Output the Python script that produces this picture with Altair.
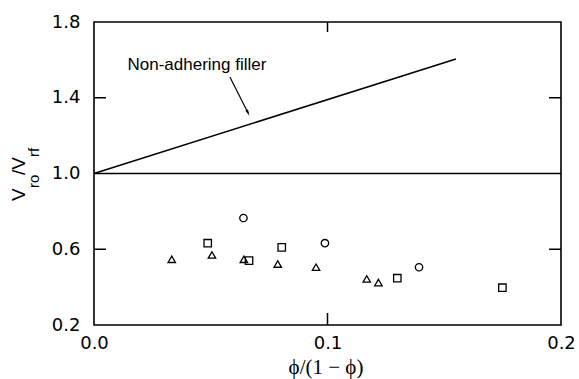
import altair as alt
import pandas as pd

# ---- data ----
circle_x = [0.0640, 0.0989, 0.1392]
circle_y = [0.765, 0.632, 0.505]
square_x = [0.0487, 0.0664, 0.0804, 0.1299, 0.1749]
square_y = [0.632, 0.540, 0.610, 0.447, 0.397]
triangle_x = [0.0333, 0.0505, 0.0642, 0.0787, 0.0951, 0.1168, 0.1218]
triangle_y = [0.547, 0.570, 0.547, 0.522, 0.505, 0.443, 0.424]

model_x = [0.0, 0.155]          # non-adhering filler line
model_y = [1.0, 1.605]
ref_y = [1.0]                   # horizontal reference at 1.0

arrow_x = [0.0582, 0.0660]
arrow_y = [1.510, 1.320]
label_text = ["Non-adhering filler"]
label_x = [0.0441]
label_y = [1.547]

x_tick_values = [0.0, 0.1, 0.2]
y_tick_values = [0.2, 0.6, 1.0, 1.4, 1.8]
inner_x_ticks = [0.1]
inner_y_ticks = [0.6, 1.4]

x_title = ["ϕ/(1 − ϕ)"]
y_title_main = ["V", "/V"]
y_title_sub = ["ro", "rf"]

# ---- build tables ----
pts = pd.concat([
    pd.DataFrame({"x": circle_x, "y": circle_y, "s": "circle"}),
    pd.DataFrame({"x": square_x, "y": square_y, "s": "square"}),
    pd.DataFrame({"x": triangle_x, "y": triangle_y, "s": "triangle"}),
])

xs = alt.Scale(domain=[0, 0.2], nice=False, zero=False)
ys = alt.Scale(domain=[0.2, 1.8], nice=False, zero=False)

x_axis = alt.Axis(values=x_tick_values, format=".1f", labelFontSize=18,
                  labelFont="DejaVu Sans", labelPadding=9, ticks=False, tickSize=0,
                  domain=False, grid=False, title=None, labelFlush=False,
                  labelOverlap=False, labelColor="black")
y_axis = alt.Axis(values=y_tick_values, format=".1f", labelFontSize=18,
                  labelFont="DejaVu Sans", labelPadding=14, ticks=False, tickSize=0,
                  domain=False, grid=False, title=None, labelOverlap=False,
                  labelColor="black")


def X(field="x"):
    return alt.X(f"{field}:Q", scale=xs, axis=x_axis)


def Y(field="y"):
    return alt.Y(f"{field}:Q", scale=ys, axis=y_axis)


points = alt.Chart(pts).mark_point(filled=False, color="black", strokeWidth=1.3, size=55,
                                   opacity=1).encode(
    x=X(), y=Y(),
    shape=alt.Shape("s:N", scale=alt.Scale(domain=["circle", "square", "triangle"],
                                           range=["circle", "square", "triangle-up"]),
                    legend=None),
)

model = alt.Chart(pd.DataFrame({"x": model_x, "y": model_y})).mark_line(
    color="black", strokeWidth=1.6).encode(x=X(), y=Y())

ref = alt.Chart(pd.DataFrame({"y": ref_y})).mark_rule(color="black", strokeWidth=1.6).encode(
    y=Y())

arrow_df = pd.DataFrame({"x": arrow_x, "y": arrow_y})
arrow = alt.Chart(arrow_df).mark_line(color="black", strokeWidth=1.2).encode(x=X(), y=Y())
arrow_head = alt.Chart(arrow_df.iloc[[1]]).mark_point(
    shape="M-0.45,-1L0,1L0.45,-1Z", filled=True, color="black", size=40, angle=333,
    opacity=1).encode(x=X(), y=Y())

label = alt.Chart(pd.DataFrame({"x": label_x, "y": label_y, "t": label_text})).mark_text(
    font="Liberation Sans", fontSize=17, color="black", align="center",
    baseline="alphabetic").encode(x=X(), y=Y(), text="t:N")

# inward ticks
left_ticks = alt.Chart(pd.DataFrame({"y": inner_y_ticks})).mark_rule(color="black", strokeWidth=1.5).encode(
    y=Y(), x=alt.value(0), x2=alt.value(12))
right_ticks = alt.Chart(pd.DataFrame({"y": inner_y_ticks})).mark_rule(color="black", strokeWidth=1.5).encode(
    y=Y(), x=alt.value(455), x2=alt.value(467))
bottom_ticks = alt.Chart(pd.DataFrame({"x": inner_x_ticks})).mark_rule(color="black", strokeWidth=1.5).encode(
    x=X(), y=alt.value(291), y2=alt.value(303))
top_ticks = alt.Chart(pd.DataFrame({"x": inner_x_ticks})).mark_rule(color="black", strokeWidth=1.5).encode(
    x=X(), y=alt.value(0), y2=alt.value(10))

# axis titles
xt = alt.Chart(pd.DataFrame({"t": x_title})).mark_text(
    font="Liberation Serif", fontSize=21, color="black", align="center",
    baseline="alphabetic").encode(x=alt.value(232), y=alt.value(352), text="t:N")

yt_v = alt.Chart(pd.DataFrame({"t": [y_title_main[0]]})).mark_text(
    font="Liberation Sans", fontSize=19, color="black", align="left", baseline="alphabetic",
    angle=270).encode(x=alt.value(-69), y=alt.value(179), text="t:N")
yt_ro = alt.Chart(pd.DataFrame({"t": [y_title_sub[0]]})).mark_text(
    font="Liberation Sans", fontSize=15, color="black", align="left", baseline="alphabetic",
    angle=270).encode(x=alt.value(-55), y=alt.value(166), text="t:N")
yt_v2 = alt.Chart(pd.DataFrame({"t": [y_title_main[1]]})).mark_text(
    font="Liberation Sans", fontSize=19, color="black", align="left", baseline="alphabetic",
    angle=270).encode(x=alt.value(-69), y=alt.value(153), text="t:N")
yt_rf = alt.Chart(pd.DataFrame({"t": [y_title_sub[1]]})).mark_text(
    font="Liberation Sans", fontSize=15, color="black", align="left", baseline="alphabetic",
    angle=270).encode(x=alt.value(-55), y=alt.value(135), text="t:N")

chart = alt.layer(
    points, model, ref, arrow, arrow_head, label,
    left_ticks, right_ticks, bottom_ticks, top_ticks,
    xt, yt_v, yt_ro, yt_v2, yt_rf,
).properties(
    width=467, height=303,
    autosize=alt.AutoSizeParams(type="none"),
    padding={"left": 94, "top": 22, "right": 18, "bottom": 54},
    background="white",
).configure_view(stroke="black", strokeWidth=1.6)

chart.save("out.html", embed_options={"renderer": "svg", "actions": False})
